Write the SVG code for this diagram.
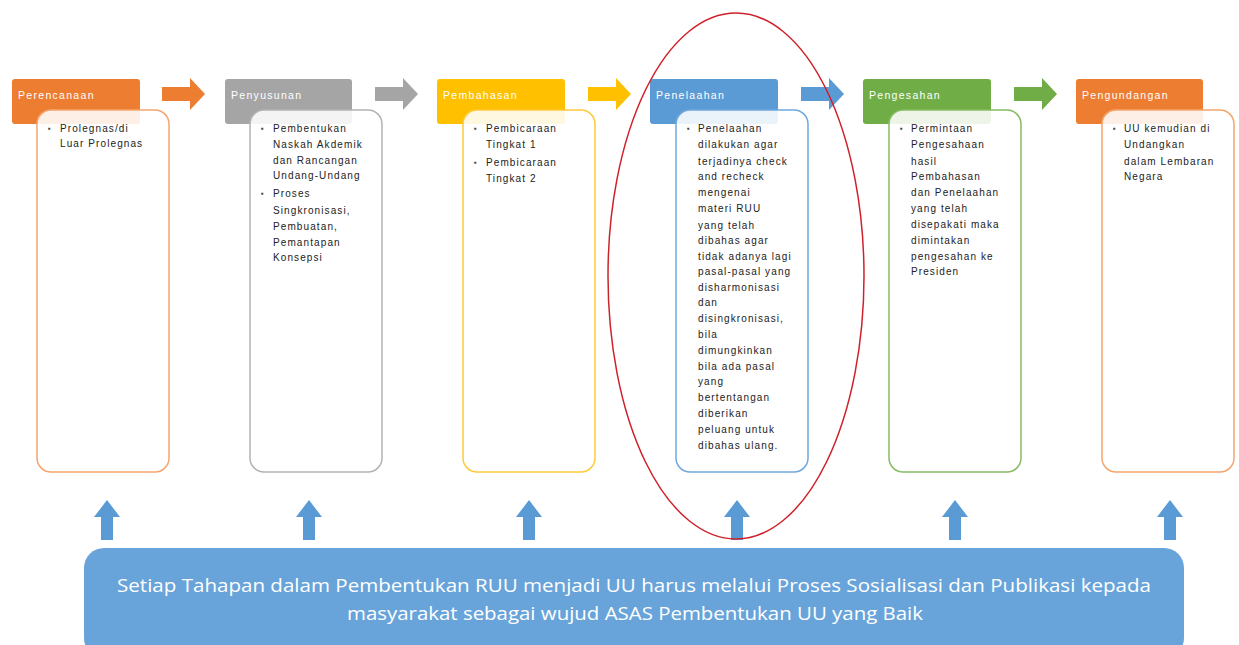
<svg xmlns="http://www.w3.org/2000/svg" width="1239" height="645" viewBox="0 0 1239 645">
<style>
.hdr{font-family:"Liberation Sans",Arial,sans-serif;font-size:10.5px;fill:#fff;letter-spacing:1.3px}
.bt{font-family:"Liberation Sans",Arial,sans-serif;font-size:10px;fill:#222;letter-spacing:1.1px}
.bul{font-family:"Liberation Sans",Arial,sans-serif;font-size:8px;fill:#444}
.body{fill:#fff;fill-opacity:0.88;stroke-width:1.5}
.foot{font-family:"Open Sans","Liberation Sans",sans-serif;font-size:18px;fill:#fff;text-anchor:middle}
</style>
<defs>
<path id="ra" d="M0,-7 H28 V-16 L43,0 L28,16 V7 H0 Z"/>
<path id="ua" d="M-6,40 V17 H-13 L0,0 L13,17 H6 V40 Z"/>
</defs>
<g id="connectors">
<use href="#ra" x="162" y="94" fill="#ED7D31"/>
<use href="#ra" x="375" y="94" fill="#A5A5A5"/>
<use href="#ra" x="588" y="94" fill="#FFC000"/>
<use href="#ra" x="801" y="94" fill="#5B9BD5"/>
<use href="#ra" x="1014" y="94" fill="#70AD47"/>
<use href="#ua" x="107" y="500" fill="#5B9BD5"/>
<use href="#ua" x="309" y="500" fill="#5B9BD5"/>
<use href="#ua" x="529" y="500" fill="#5B9BD5"/>
<use href="#ua" x="737" y="500" fill="#5B9BD5"/>
<use href="#ua" x="955" y="500" fill="#5B9BD5"/>
<use href="#ua" x="1170" y="500" fill="#5B9BD5"/>
</g>
<g id="perencanaan">
<rect x="12" y="79" width="128" height="45" rx="3" fill="#ED7D31"/>
<text class="hdr" x="18" y="99">Perencanaan</text>
<rect class="body" x="37" y="110" width="132" height="362" rx="14" stroke="#F4A56E"/>
<text class="bul" x="48" y="131">▪</text>
<text class="bt"><tspan x="60" y="132">Prolegnas/di</tspan><tspan x="60" y="147">Luar Prolegnas</tspan></text>
</g>
<g id="penyusunan">
<rect x="225" y="79" width="127" height="45" rx="3" fill="#A5A5A5"/>
<text class="hdr" x="231" y="99">Penyusunan</text>
<rect class="body" x="250" y="110" width="132" height="362" rx="14" stroke="#B3B3B3"/>
<text class="bul" x="261" y="131">▪</text>
<text class="bul" x="261" y="196">▪</text>
<text class="bt"><tspan x="273" y="132">Pembentukan</tspan><tspan x="273" y="148">Naskah Akdemik</tspan><tspan x="273" y="164">dan Rancangan</tspan><tspan x="273" y="179">Undang-Undang</tspan><tspan x="273" y="197">Proses</tspan><tspan x="273" y="214">Singkronisasi,</tspan><tspan x="273" y="230">Pembuatan,</tspan><tspan x="273" y="246">Pemantapan</tspan><tspan x="273" y="261">Konsepsi</tspan></text>
</g>
<g id="pembahasan">
<rect x="437" y="79" width="128" height="45" rx="3" fill="#FFC000"/>
<text class="hdr" x="443" y="99">Pembahasan</text>
<rect class="body" x="463" y="110" width="132" height="362" rx="14" stroke="#FFC93A"/>
<text class="bul" x="474" y="131">▪</text>
<text class="bul" x="474" y="165">▪</text>
<text class="bt"><tspan x="486" y="132">Pembicaraan</tspan><tspan x="486" y="148">Tingkat 1</tspan><tspan x="486" y="166">Pembicaraan</tspan><tspan x="486" y="182">Tingkat 2</tspan></text>
</g>
<g id="penelaahan">
<rect x="650" y="79" width="128" height="45" rx="3" fill="#5B9BD5"/>
<text class="hdr" x="656" y="99">Penelaahan</text>
<rect class="body" x="676" y="110" width="132" height="362" rx="14" stroke="#6FA8DC"/>
<text class="bul" x="687" y="131">▪</text>
<text class="bt"><tspan x="698" y="132">Penelaahan</tspan><tspan x="698" y="148">dilakukan agar</tspan><tspan x="698" y="165">terjadinya check</tspan><tspan x="698" y="180">and recheck</tspan><tspan x="698" y="196">mengenai</tspan><tspan x="698" y="212">materi RUU</tspan><tspan x="698" y="229">yang telah</tspan><tspan x="698" y="244">dibahas agar</tspan><tspan x="698" y="260">tidak adanya lagi</tspan><tspan x="698" y="275">pasal-pasal yang</tspan><tspan x="698" y="291">disharmonisasi</tspan><tspan x="698" y="306">dan</tspan><tspan x="698" y="322">disingkronisasi,</tspan><tspan x="698" y="338">bila</tspan><tspan x="698" y="354">dimungkinkan</tspan><tspan x="698" y="370">bila ada pasal</tspan><tspan x="698" y="385">yang</tspan><tspan x="698" y="401">bertentangan</tspan><tspan x="698" y="417">diberikan</tspan><tspan x="698" y="433">peluang untuk</tspan><tspan x="698" y="449">dibahas ulang.</tspan></text>
</g>
<g id="pengesahan">
<rect x="863" y="79" width="128" height="45" rx="3" fill="#70AD47"/>
<text class="hdr" x="869" y="99">Pengesahan</text>
<rect class="body" x="889" y="110" width="132" height="362" rx="14" stroke="#86BC62"/>
<text class="bul" x="900" y="131">▪</text>
<text class="bt"><tspan x="911" y="132">Permintaan</tspan><tspan x="911" y="148">Pengesahaan</tspan><tspan x="911" y="165">hasil</tspan><tspan x="911" y="180">Pembahasan</tspan><tspan x="911" y="196">dan Penelaahan</tspan><tspan x="911" y="212">yang telah</tspan><tspan x="911" y="228">disepakati maka</tspan><tspan x="911" y="244">dimintakan</tspan><tspan x="911" y="260">pengesahan ke</tspan><tspan x="911" y="275">Presiden</tspan></text>
</g>
<g id="pengundangan">
<rect x="1076" y="79" width="127" height="45" rx="3" fill="#ED7D31"/>
<text class="hdr" x="1082" y="99">Pengundangan</text>
<rect class="body" x="1102" y="110" width="132" height="362" rx="14" stroke="#F4A56E"/>
<text class="bul" x="1113" y="131">▪</text>
<text class="bt"><tspan x="1124" y="132">UU kemudian di</tspan><tspan x="1124" y="148">Undangkan</tspan><tspan x="1124" y="165">dalam Lembaran</tspan><tspan x="1124" y="180">Negara</tspan></text>
</g>
<g id="highlight">
<ellipse cx="736" cy="276" rx="128" ry="263" fill="none" stroke="#D0202A" stroke-width="1.5"/>
</g>
<g id="sosialisasi">
<rect x="84" y="548" width="1100" height="110" rx="20" fill="#68A4DA"/>
<text class="foot" x="634" y="592" textLength="1034" lengthAdjust="spacingAndGlyphs">Setiap Tahapan dalam Pembentukan RUU menjadi UU harus melalui Proses Sosialisasi dan Publikasi kepada</text>
<text class="foot" x="635" y="620" textLength="576" lengthAdjust="spacingAndGlyphs">masyarakat sebagai wujud ASAS Pembentukan UU yang Baik</text>
</g>
</svg>
